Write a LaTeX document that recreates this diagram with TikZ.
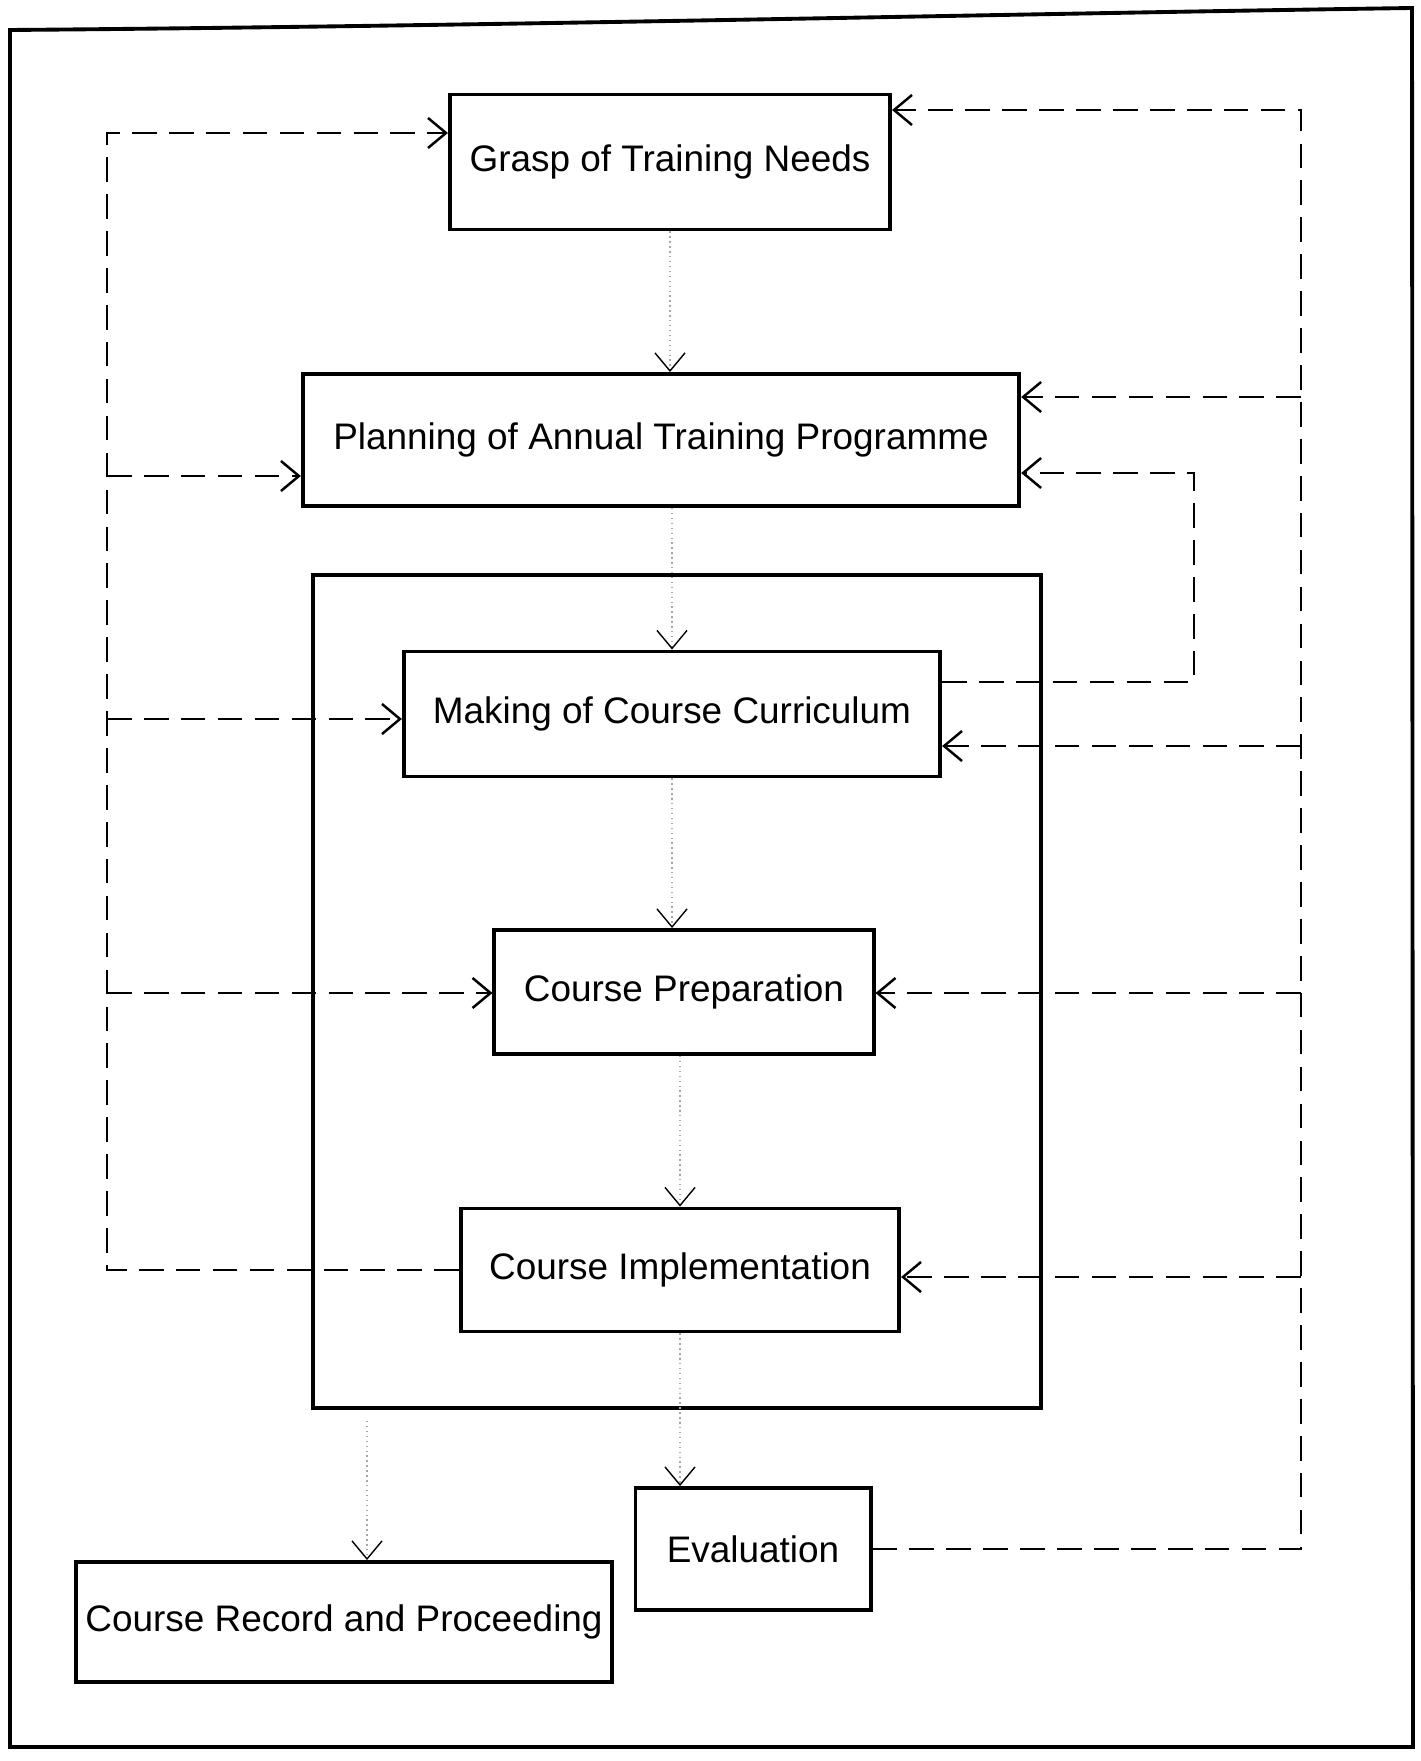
\documentclass[tikz,border=0pt]{standalone}
\usepackage{fontspec}
\setmainfont{Liberation Sans}
\usepackage{tikz}
\usetikzlibrary{arrows.meta,positioning}

\begin{document}
\begin{tikzpicture}[x=0.01cm,y=-0.01cm,
    stepbox/.style={draw, line width=1.1pt, rectangle, inner sep=0pt, font=\fontsize{10.5}{12}\selectfont},
    fb/.style={line width=0.7pt, dash pattern=on 7pt off 3.5pt},
    flow/.style={gray!70, line width=0.4pt, densely dotted},
    tip/.style={-{Straight Barb[length=1.8mm,width=3mm,color=black]}}]
        \useasboundingbox (0,0) rectangle (1420,1761);
        % outer frame
        \draw[line width=1.1pt] (10,1747) -- (10,30) .. controls (500,26) and (1000,14) .. (1412,8) -- (1413,1747) -- cycle;
        % inner block
        \node[draw, line width=1.1pt, minimum width=7.28cm, minimum height=8.33cm] (block) at (677,991.5) {};

        \node[stepbox, minimum width=4.4cm, minimum height=1.35cm] (grasp) at (670,162) {Grasp of Training Needs};
        \node[stepbox, minimum width=7.16cm, minimum height=1.32cm] (planning) at (661,440) {Planning of Annual Training Programme};
        \node[stepbox, minimum width=5.36cm, minimum height=1.25cm] (making) at (672,714) {Making of Course Curriculum};
        \node[stepbox, minimum width=3.79cm, minimum height=1.24cm] (prep) at (684,992) {Course Preparation};
        \node[stepbox, minimum width=4.38cm, minimum height=1.23cm] (impl) at (680,1270) {Course Implementation};
        \node[stepbox, minimum width=2.35cm, minimum height=1.22cm] (eval) at (753,1549) {Evaluation};
        \node[stepbox, minimum width=5.36cm, minimum height=1.2cm] (record) at (344,1622) {Course Record and Proceeding};

        % main flow
        \draw[flow, tip] (grasp.south) -- (grasp.south |- planning.north);
        \draw[flow, tip] (making.north |- planning.south) -- (making.north);
        \draw[flow, tip] (making.south) -- (making.south |- prep.north);
        \draw[flow, tip] (impl.north |- prep.south) -- (impl.north);
        \draw[flow, tip] (impl.south) -- (impl.south |- eval.north);
        \coordinate (rec) at (367,1421);
        \draw[flow, tip] (rec) -- (rec |- record.north);

        % feedback on the left
        \coordinate (l1) at (107,133);
        \coordinate (l2) at (107,476);
        \coordinate (l3) at (107,719);
        \coordinate (l4) at (107,993);
        \draw[fb, tip] (impl.west) -| (l1) -- (l1 -| grasp.west);
        \foreach \c/\n in {l2/planning, l3/making, l4/prep}
            \draw[fb, tip] (\c) -- (\c -| \n.west);

        % feedback on the right
        \coordinate (r1) at (1301,110);
        \coordinate (r2) at (1301,397);
        \coordinate (r3) at (1301,746);
        \coordinate (r4) at (1301,993);
        \coordinate (r5) at (1301,1277);
        \draw[fb, tip] (eval.east) -| (r1) -- (r1 -| grasp.east);
        \foreach \c/\n in {r2/planning, r3/making, r4/prep, r5/impl}
            \draw[fb, tip] (\c) -- (\c -| \n.east);

        % curriculum back to planning
        \coordinate (m1) at (1194,682);
        \coordinate (m2) at (1194,473);
        \draw[fb, tip] (m1 -| making.east) -- (m1) -- (m2) -- (m2 -| planning.east);
    \end{tikzpicture}
\end{document}
